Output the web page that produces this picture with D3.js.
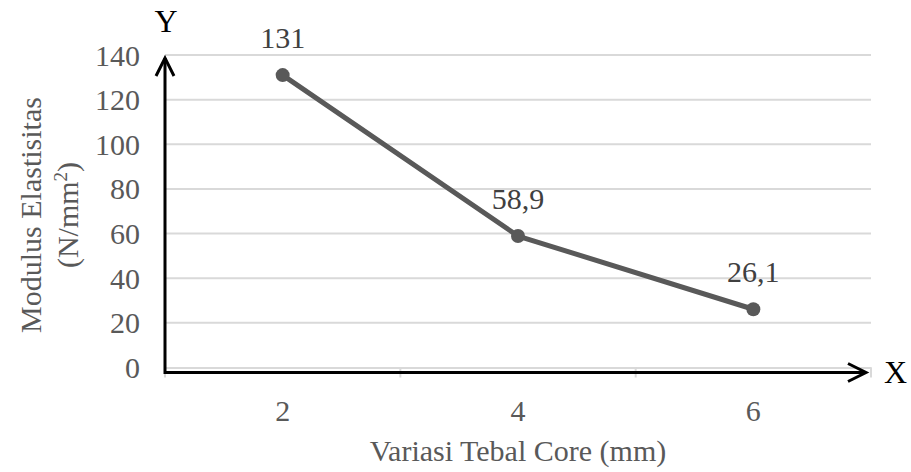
<!DOCTYPE html>
<html><head><meta charset="utf-8">
<script src="https://cdn.jsdelivr.net/npm/d3@7"></script>
<style>body{margin:0;background:#fff}svg{display:block}</style>
</head><body><svg id="c" width="911" height="472" font-family="'Liberation Serif', serif"></svg>
<script>
const categories = ["2", "4", "6"];
const values = [131, 58.9, 26.1];
const valueLabels = ["131", "58,9", "26,1"];
const yTicks = [0, 20, 40, 60, 80, 100, 120, 140];

const svg = d3.select("#c");
const L = 165, R = 871, T = 55, B = 367.5;
const x = d3.scaleBand().domain(categories).range([L, R]);
const y = d3.scaleLinear().domain([0, 140]).range([B, T]);
const FS = 30;

// gridlines
svg.append("g").selectAll("line").data(yTicks.filter(d => d > 0)).join("line")
  .attr("x1", L).attr("x2", R).attr("y1", d => y(d)).attr("y2", d => y(d))
  .attr("stroke", "#d9d9d9").attr("stroke-width", 2);

// gray category axis with ticks
const xa = svg.append("g").attr("transform", `translate(0,${B})`)
  .call(d3.axisBottom(x).tickSize(0).tickFormat(""));
xa.select(".domain").attr("stroke", "#d9d9d9").attr("stroke-width", 2);
svg.append("g").selectAll("line").data([...categories.map(c => x(c)), R]).join("line")
  .attr("x1", d => d).attr("x2", d => d).attr("y1", B).attr("y2", B + 10)
  .attr("stroke", "#d9d9d9").attr("stroke-width", 2);

// y tick labels
svg.append("g").selectAll("text").data(yTicks).join("text")
  .attr("x", 140).attr("y", d => y(d)).attr("dy", "0.35em")
  .attr("text-anchor", "end").attr("font-size", FS).attr("fill", "#595959")
  .text(d => d);

// x tick labels
svg.append("g").selectAll("text").data(categories).join("text")
  .attr("x", d => x(d) + x.bandwidth() / 2).attr("y", 421)
  .attr("text-anchor", "middle").attr("font-size", FS).attr("fill", "#595959")
  .text(d => d);

// black arrow axes
const ax = svg.append("g").attr("stroke", "#000").attr("stroke-width", 3).attr("fill", "none");
const ox = L, oy = 372.5;
ax.append("line").attr("x1", ox).attr("y1", oy).attr("x2", 866).attr("y2", oy);
ax.append("path").attr("d", `M${866 - 18},${oy - 9} L866,${oy} L${866 - 18},${oy + 9}`);
ax.append("line").attr("x1", ox).attr("y1", oy + 1.5).attr("x2", ox).attr("y2", 58);
ax.append("path").attr("d", `M${ox - 9},${58 + 18} L${ox},58 L${ox + 9},${58 + 18}`);

svg.append("text").attr("x", 166).attr("y", 32).attr("text-anchor", "middle")
  .attr("font-size", 32).attr("fill", "#000").text("Y");
svg.append("text").attr("x", 884).attr("y", 383)
  .attr("font-size", 32).attr("fill", "#000").text("X");

// series line
const pts = categories.map((c, i) => [x(c) + x.bandwidth() / 2, y(values[i])]);
svg.append("path").attr("d", d3.line()(pts)).attr("fill", "none")
  .attr("stroke", "#595959").attr("stroke-width", 5).attr("stroke-linejoin", "round");
svg.append("g").selectAll("circle").data(pts).join("circle")
  .attr("cx", d => d[0]).attr("cy", d => d[1]).attr("r", 7).attr("fill", "#595959");

// data labels
svg.append("g").selectAll("text").data(pts).join("text")
  .attr("x", d => d[0]).attr("y", d => d[1] - 27)
  .attr("text-anchor", "middle").attr("font-size", FS).attr("fill", "#404040")
  .text((d, i) => valueLabels[i]);

// axis titles
const yt = svg.append("text").attr("transform", "translate(0,215) rotate(-90)")
  .attr("text-anchor", "middle").attr("font-size", FS).attr("fill", "#595959");
yt.append("tspan").attr("x", 0).attr("y", 41).text("Modulus Elastisitas");
const t2 = yt.append("tspan").attr("x", 0).attr("y", 78);
t2.append("tspan").text("(N/mm");
t2.append("tspan").attr("font-size", 19).attr("dy", -11).text("2");
t2.append("tspan").attr("dy", 11).text(")");

svg.append("text").attr("x", 518).attr("y", 461).attr("text-anchor", "middle")
  .attr("font-size", FS).attr("fill", "#595959").text("Variasi Tebal Core (mm)");
</script></body></html>
